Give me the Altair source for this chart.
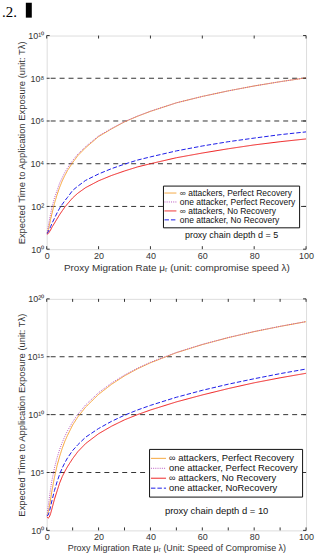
import altair as alt
import pandas as pd

# Proxy migration rate samples (unit: compromise speed lambda)
mu = [0, 0.5, 1, 1.5, 2, 3, 4, 5, 6, 7, 8, 10, 12, 15, 20, 25, 30, 35, 40, 50, 60, 70, 80, 90, 100]

series_names_d5 = [
    "∞ attackers, Perfect Recovery",
    "one attacker, Perfect Recovery",
    "∞ attackers, No Recovery",
    "one attacker, No Recovery",
]
series_names_d10 = [
    "∞ attackers, Perfect Recovery",
    "one attacker, Perfect Recovery",
    "∞ attackers, No Recovery",
    "one attacker, NoRecovery",
]

# log10 of expected time to exposure, proxy chain depth d = 5
d5_inf_perfect = [0.75, 0.85, 1.10, 1.40, 1.65, 2.15, 2.55, 2.90, 3.20, 3.45, 3.68, 4.05, 4.38, 4.75, 5.27, 5.63, 5.96, 6.22, 6.45, 6.85, 7.15, 7.41, 7.64, 7.84, 8.02]
d5_one_perfect = [0.75, 1.00, 1.35, 1.65, 1.95, 2.40, 2.75, 3.10, 3.35, 3.60, 3.80, 4.15, 4.45, 4.80, 5.30, 5.65, 5.97, 6.23, 6.46, 6.85, 7.15, 7.41, 7.64, 7.84, 8.02]
d5_inf_norec = [0.70, 0.72, 0.80, 0.90, 1.02, 1.22, 1.42, 1.62, 1.80, 1.97, 2.12, 2.40, 2.62, 2.88, 3.20, 3.45, 3.66, 3.85, 4.00, 4.28, 4.50, 4.70, 4.88, 5.03, 5.16]
d5_one_norec = [0.72, 0.80, 0.92, 1.05, 1.20, 1.45, 1.70, 1.92, 2.10, 2.27, 2.42, 2.75, 2.95, 3.22, 3.52, 3.77, 3.98, 4.17, 4.32, 4.60, 4.83, 5.03, 5.20, 5.36, 5.49]

# log10 of expected time to exposure, proxy chain depth d = 10
d10_inf_perfect = [1.30, 1.50, 2.00, 2.70, 3.40, 4.60, 5.60, 6.40, 7.10, 7.70, 8.20, 9.10, 9.80, 10.65, 11.75, 12.62, 13.35, 13.96, 14.48, 15.35, 16.05, 16.65, 17.17, 17.62, 18.03]
d10_one_perfect = [1.30, 2.00, 2.80, 3.60, 4.30, 5.40, 6.28, 7.00, 7.60, 8.13, 8.59, 9.37, 10.03, 10.84, 11.90, 12.73, 13.42, 14.01, 14.52, 15.37, 16.07, 16.66, 17.18, 17.63, 18.04]
d10_inf_norec = [1.20, 1.05, 1.15, 1.45, 1.85, 2.70, 3.40, 4.10, 4.65, 5.10, 5.50, 6.20, 6.80, 7.50, 8.35, 9.00, 9.55, 10.00, 10.40, 11.10, 11.70, 12.25, 12.75, 13.18, 13.57]
d10_one_norec = [1.25, 1.30, 1.60, 2.05, 2.55, 3.45, 4.20, 4.85, 5.40, 5.85, 6.25, 6.90, 7.40, 8.05, 8.80, 9.42, 9.95, 10.40, 10.80, 11.50, 12.10, 12.63, 13.10, 13.54, 13.94]

x_ticks_d5 = [0, 20, 40, 60, 80, 100]
x_ticks_d10 = [0, 10, 20, 30, 40, 50, 60, 70, 80, 90, 100]
y_exp_d5 = [0, 2, 4, 6, 8, 10]
y_exp_d10 = [0, 5, 10, 15, 20]

SUP = str.maketrans("0123456789", "⁰¹²³⁴⁵⁶⁷⁸⁹")
FONT = "Liberation Sans"
COLORS = ["#f5a030", "#b858c0", "#ee1c1c", "#1c1ce8"]
DASHES = [[1, 0], [1, 1.2], [1, 0], [4.5, 2]]
WIDTHS = [1.0, 1.0, 2.0, 2.0]
# wide, flat legend glyph so the rows stay compact
LEGEND_GLYPH = "M-1.6,0H1.6"


def panel(names, curves, x_ticks, y_exps, w, h, x_title, x_title_size,
          legend_xy, legend_font, legend_size, legend_pad, note, note_xy, note_size):
    rows = []
    for order, (name, vals) in enumerate(zip(names, curves)):
        for m, v in zip(mu, vals):
            rows.append({"mu": m, "T": 10 ** v, "series": name, "order": order})
    df = pd.DataFrame(rows)

    y_vals = [10 ** e for e in y_exps]
    label_expr = " : ".join(
        f"datum.value == {10 ** e} ? '10{str(e).translate(SUP)}'" for e in y_exps
    ) + " : ''"

    xs = alt.Scale(domain=[0, 100], nice=False, zero=False)
    ys = alt.Scale(type="log", domain=[y_vals[0], y_vals[-1]], nice=False)

    base = alt.Chart(df)

    lines = base.mark_line(clip=True).encode(
        x=alt.X("mu:Q", scale=xs, title=x_title,
                axis=alt.Axis(values=x_ticks, ticks=False, domain=False, grid=False,
                              labelFontSize=9, labelPadding=2, labelColor="#333",
                              labelFont=FONT, titleFont=FONT, titleFontSize=x_title_size,
                              titleFontWeight="normal", titleColor="#333",
                              titlePadding=2, labelFlush=False)),
        y=alt.Y("T:Q", scale=ys, title="Expected Time to Application Exposure (unit: Tλ)",
                axis=alt.Axis(values=y_vals, labelExpr=label_expr, ticks=False, domain=False,
                              grid=False, labelFontSize=9, labelPadding=3, labelColor="#333",
                              labelFont=FONT, titleFont=FONT, titleFontSize=9.5,
                              titleFontWeight="normal", titleColor="#333", titlePadding=1)),
        color=alt.Color("series:N", scale=alt.Scale(domain=names, range=COLORS),
                        legend=alt.Legend(title=None, orient="none",
                                          legendX=legend_xy[0], legendY=legend_xy[1],
                                          strokeColor="#111", fillColor="white",
                                          padding=legend_pad, rowPadding=0, labelOffset=5,
                                          labelFont=FONT, labelFontSize=legend_font,
                                          labelColor="#111", symbolType=LEGEND_GLYPH,
                                          symbolSize=legend_size, cornerRadius=0)),
        strokeDash=alt.StrokeDash("series:N", scale=alt.Scale(domain=names, range=DASHES)),
        strokeWidth=alt.StrokeWidth("series:N", scale=alt.Scale(domain=names, range=WIDTHS)),
        order="order:Q",
    )

    grid_df = pd.DataFrame({"g": y_vals[1:-1]})
    grid = alt.Chart(grid_df).mark_rule(color="#333", strokeDash=[5, 4], strokeWidth=1).encode(
        y=alt.Y("g:Q", scale=ys)
    )

    # inward tick marks on all four sides
    xt = alt.Chart(pd.DataFrame({"t": x_ticks}))
    yt = alt.Chart(pd.DataFrame({"t": y_vals}))
    tick_style = dict(color="#333", strokeWidth=1)
    ticks = [
        xt.mark_rule(**tick_style).encode(x=alt.X("t:Q", scale=xs), y=alt.value(h), y2=alt.value(h - 3)),
        xt.mark_rule(**tick_style).encode(x=alt.X("t:Q", scale=xs), y=alt.value(0), y2=alt.value(3)),
        yt.mark_rule(**tick_style).encode(y=alt.Y("t:Q", scale=ys), x=alt.value(0), x2=alt.value(3)),
        yt.mark_rule(**tick_style).encode(y=alt.Y("t:Q", scale=ys), x=alt.value(w), x2=alt.value(w - 3)),
    ]

    note_mark = alt.Chart(pd.DataFrame({"n": [note]})).mark_text(
        font=FONT, fontSize=note_size, color="#111", align="center", baseline="middle"
    ).encode(text="n:N", x=alt.value(note_xy[0]), y=alt.value(note_xy[1]))

    return alt.layer(grid, lines, *ticks, note_mark).properties(width=w, height=h)


top = panel(series_names_d5, [d5_inf_perfect, d5_one_perfect, d5_inf_norec, d5_one_norec],
            x_ticks_d5, y_exp_d5, 261, 215,
            "Proxy Migration Rate μᵣ (unit: compromise speed λ)", 10,
            (117, 151), 8.5, 56, 3, "proxy chain depth d = 5", (186, 201), 9)

bottom = panel(series_names_d10, [d10_inf_perfect, d10_one_perfect, d10_inf_norec, d10_one_norec],
               x_ticks_d10, y_exp_d10, 261, 233,
               "Proxy Migration Rate μᵣ (Unit: Speed of Compromise λ)", 9,
               (103, 151), 9.5, 90, 4, "proxy chain depth d = 10", (171, 214), 9.5)

# page fragment above the figure
head_text = alt.Chart(pd.DataFrame({"s": [".2."]})).mark_text(
    font="Liberation Serif", fontSize=15, color="black", align="left", baseline="middle"
).encode(text="s:N", x=alt.value(-45), y=alt.value(-24))
head_bar = alt.Chart(pd.DataFrame({"s": [0]})).mark_rect(color="black").encode(
    x=alt.value(-21), x2=alt.value(-15), y=alt.value(-33), y2=alt.value(-18)
)

top = alt.layer(top, head_text, head_bar)

chart = alt.vconcat(top, bottom, spacing=21).resolve_scale(
    x="independent", y="independent", color="independent",
    strokeDash="independent", strokeWidth="independent"
).resolve_legend(
    color="independent", strokeDash="independent", strokeWidth="independent"
).properties(
    padding={"left": 1, "top": 0, "right": 0, "bottom": 0}
).configure_view(stroke="#333", strokeWidth=1).configure(background="white")

chart.save("out.html", embed_options={"renderer": "svg", "actions": False})
